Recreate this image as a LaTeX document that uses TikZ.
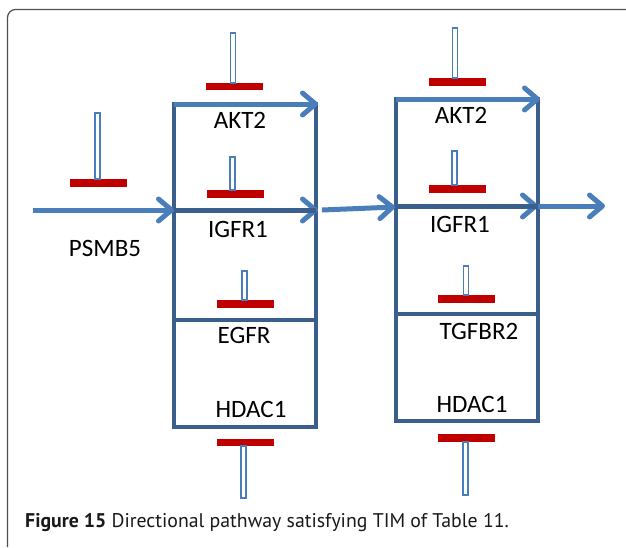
\documentclass[tikz,border=0pt]{standalone}
\usepackage{fontspec}
\setmainfont{Carlito}
\newfontfamily\capfont{PT Sans}
\usetikzlibrary{arrows.meta}
\definecolor{flowblue}{HTML}{4A7EBB}
\definecolor{boxblue}{HTML}{3A5F8D}
\definecolor{barred}{HTML}{C00000}
\definecolor{framegray}{HTML}{505050}

\begin{document}
\begin{tikzpicture}[x=1pt,y=-1pt,
  flow/.style={draw=flowblue, line width=5pt,
    -{Straight Barb[length=13pt,width=22pt,round]}},
  boxline/.style={draw=boxblue, line width=3.5pt, line join=miter},
  midline/.style={draw=boxblue, line width=5pt},
  bar/.style={rectangle, fill=barred, minimum width=57pt, minimum height=7.5pt,
    inner sep=0pt, outer sep=0pt},
  stem/.style={rectangle, draw=flowblue, fill=white, line width=1.2pt,
    minimum width=5pt, inner sep=0pt, outer sep=0pt},
  gene/.style={font=\fontsize{25}{29}\selectfont, inner sep=0pt},
  caption/.style={font=\capfont\fontsize{19.8}{23}\selectfont, inner sep=0pt,
    text=black!90}
]
\useasboundingbox (0,0) rectangle (626,547);

% open frame round the figure
\draw[framegray, line width=1.2pt, rounded corners=8pt]
  (7.5,547) -- (7.5,9.5) -- (626,9.5);

% cells of the first stage
\coordinate (p1a) at (174,104);
\coordinate (p1b) at (174,210);
\coordinate (p1c) at (174,320);
\coordinate (p1d) at (174,427);
\coordinate (q1a) at (316,104);
\coordinate (q1b) at (316,210);
\coordinate (q1c) at (316,320);
\coordinate (q1d) at (316,427);
\draw[boxline] (p1a) rectangle (q1c);
\draw[boxline] (p1c) rectangle (q1d);

% cells of the second stage
\coordinate (p2a) at (396,99);
\coordinate (p2b) at (396,206);
\coordinate (p2c) at (396,314);
\coordinate (p2d) at (396,421);
\coordinate (q2a) at (538,99);
\coordinate (q2b) at (538,206);
\coordinate (q2c) at (538,314);
\coordinate (q2d) at (538,421);
\draw[boxline] (p2a) rectangle (q2c);
\draw[boxline] (p2c) rectangle (q2d);

% signal flow
\coordinate (src) at (33,210);
\coordinate (t1a) at (318,104);
\coordinate (t1b) at (318,210);
\coordinate (j1) at (322,210);
\coordinate (j2) at (395,207);
\coordinate (t2a) at (540,99);
\coordinate (t2b) at (538,206);
\coordinate (sink) at (605,206);

\draw[flow] (src) -- (p1b);
\draw[flow] (p1a) -- (t1a);
\draw[flow] (p1b) -- (t1b);
\draw[midline] (p1b) -- (q1b);
\draw[flow] (j1) -- (j2);
\draw[flow] (p2a) -- (t2a);
\draw[flow] (p2b) -- (t2b);
\draw[midline] (p2b) -- (q2b);
\draw[flow] (t2b) -- (sink);

% inhibitors: red bar with hollow stem
\node[bar] (bPSMB) at (98,183) {};
\node[stem, minimum height=66pt, anchor=south] (sPSMB) at (97.5,179) {};

\node[bar] (bAKTa) at (234.5,86.5) {};
\node[stem, minimum height=50pt, anchor=south] (sAKTa) at (233,83) {};
\node[bar] (bIGFa) at (235.5,194) {};
\node[stem, minimum height=33pt, anchor=south] (sIGFa) at (232.5,190) {};
\node[bar] (bEGFa) at (245,304) {};
\node[stem, minimum height=29pt, anchor=south] (sEGFa) at (244.5,300) {};
\node[bar] (bHDAa) at (245,442.5) {};
\node[stem, minimum height=52pt, anchor=north] (sHDAa) at (243.5,446) {};

\node[bar] (bAKTb) at (457,82) {};
\node[stem, minimum height=50pt, anchor=south] (sAKTb) at (455,78) {};
\node[bar] (bIGFb) at (457,189) {};
\node[stem, minimum height=34pt, anchor=south] (sIGFb) at (454.5,185) {};
\node[bar] (bTGFb) at (466.5,299) {};
\node[stem, minimum height=29pt, anchor=south] (sTGFb) at (466,295) {};
\node[bar] (bHDAb) at (466.5,438) {};
\node[stem, minimum height=53pt, anchor=north] (sHDAb) at (465.5,442) {};

% gene labels
\node[gene] (lPSMB) at (105,248) {PSMB5};
\node[gene] (lAKTa) at (240,120) {AKT2};
\node[gene] (lIGFa) at (238,229) {IGFR1};
\node[gene] (lEGFa) at (244,335) {EGFR};
\node[gene] (lHDAa) at (251,409) {HDAC1};
\node[gene] (lAKTb) at (461,115) {AKT2};
\node[gene] (lIGFb) at (460,224) {IGFR1};
\node[gene] (lTGFb) at (479,331) {TGFBR2};
\node[gene] (lHDAb) at (472,404) {HDAC1};

% caption
\node[caption, anchor=base west] (cap) at (25,527)
  {\textbf{Figure 15} Directional pathway satisfying TIM of Table 11.};
\end{tikzpicture}
\end{document}
